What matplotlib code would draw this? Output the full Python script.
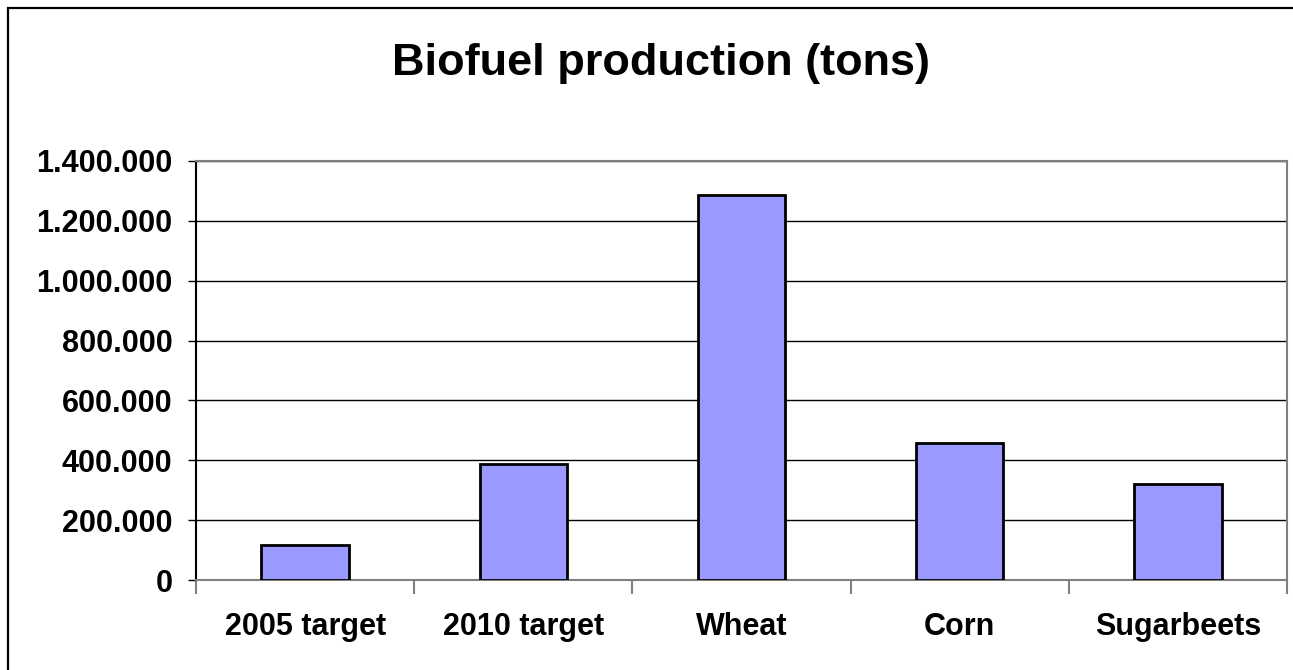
import matplotlib
matplotlib.use("Agg")
import matplotlib.pyplot as plt
from matplotlib.patches import Rectangle
from matplotlib.ticker import FuncFormatter, FixedLocator, MultipleLocator

categories = ["2005 target", "2010 target", "Wheat", "Corn", "Sugarbeets"]
values = [116000, 389000, 1288000, 459000, 320000]
title = "Biofuel production (tons)"

plt.rcParams['font.family'] = ['Liberation Sans', 'DejaVu Sans']

W, H = 1293, 670
fig = plt.figure(figsize=(W / 100, H / 100), dpi=100)
fig.patch.set_facecolor("white")

# outer chart border (extends past right/bottom edges)
fig.add_artist(Rectangle((8 / W, -0.05), 1.2, 1 - 8 / H + 0.05, transform=fig.transFigure,
                         fill=False, edgecolor="black", linewidth=1.6))

ax = fig.add_axes([196 / W, (H - 580) / H, (1287 - 196) / W, (580 - 161) / H])
x = list(range(len(categories)))
ax.bar(x, values, width=0.4, color="#9999ff", edgecolor="black", linewidth=2, zorder=3)

ax.set_xlim(-0.5, len(categories) - 0.5)
ax.set_ylim(0, 1400000)
ax.yaxis.set_major_locator(MultipleLocator(200000))
ax.yaxis.set_major_formatter(FuncFormatter(lambda v, p: f"{int(v):,}".replace(",", ".")))
ax.grid(axis="y", color="black", linewidth=1, zorder=0)

for s in ["top", "right", "bottom"]:
    ax.spines[s].set_color("#808080")
    ax.spines[s].set_linewidth(1.5)
ax.spines["left"].set_color("black")
ax.spines["left"].set_linewidth(1.5)

ax.tick_params(axis="y", direction="out", length=6, width=1, color="black",
               labelsize=22, pad=11)
for lab in ax.get_yticklabels():
    lab.set_fontweight("bold")

ax.set_xticks(x)
ax.set_xticklabels(categories, fontsize=22, fontweight="bold")
ax.tick_params(axis="x", which="major", length=0, pad=23)
ax.xaxis.set_minor_locator(FixedLocator([i - 0.5 for i in range(len(categories) + 1)]))
ax.tick_params(axis="x", which="minor", direction="out", length=10, width=1.5, color="#808080")

fig.text(661 / W, 1 - 63.5 / H, title, ha="center", va="center", fontsize=32.5, fontweight="bold")

fig.savefig("out.png", dpi=100)
